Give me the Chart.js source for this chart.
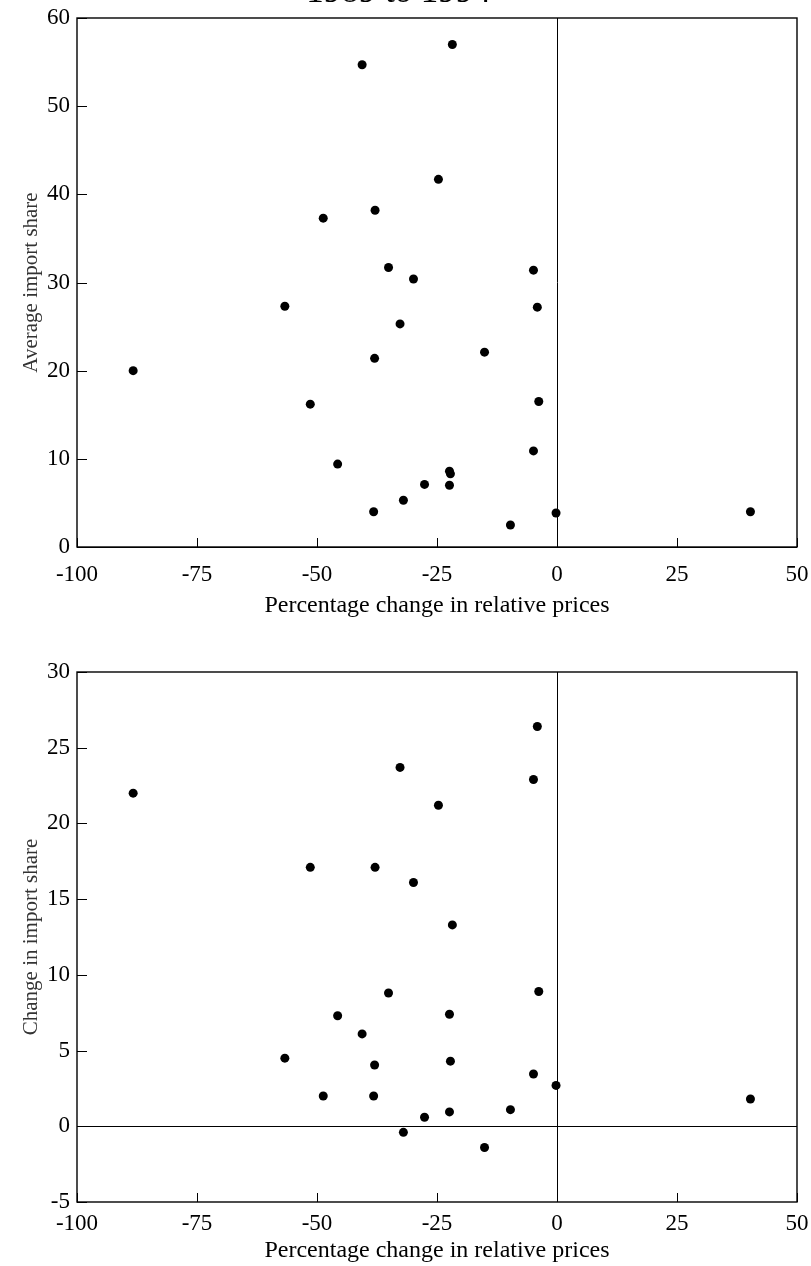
<!DOCTYPE html>
<html><head><meta charset="utf-8">
<script src="https://cdn.jsdelivr.net/npm/chart.js@4.4.1/dist/chart.umd.min.js"></script>
<style>
html,body{margin:0;padding:0;background:#fff;overflow:hidden;width:811px;height:1266px;position:relative;}
#w1{position:absolute;left:0;top:-40px;width:811px;height:670px;}
#w2{position:absolute;left:0;top:630px;width:811px;height:636px;}
</style></head><body>
<div id="w1"><canvas id="c1"></canvas></div>
<div id="w2"><canvas id="c2"></canvas></div>
<script>
const titleText = '1989 to 1994';
const xTitle = 'Percentage change in relative prices';
const yTitleTop = 'Average import share';
const yTitleBottom = 'Change in import share';
const xTicks = [-100, -75, -50, -25, 0, 25, 50];
const yTicksTop = [0, 10, 20, 30, 40, 50, 60];
const yTicksBottom = [-5, 0, 5, 10, 15, 20, 25, 30];

// one entry per country (same order in every array)
const priceChange = [-88.3, -56.7, -51.4, -48.7, -45.7, -40.6, -37.9, -38.0, -38.2, -35.1,
  -32.7, -32.0, -29.9, -27.6, -24.7, -22.4, -22.2, -22.4, -21.8, -15.1,
  -9.7, -4.9, -4.9, -4.1, -3.8, -0.2, 40.3];
const avgImportShare = [20.0, 27.3, 16.2, 37.3, 9.4, 54.7, 38.2, 21.4, 4.0, 31.7,
  25.3, 5.3, 30.4, 7.1, 41.7, 8.6, 8.3, 7.0, 57.0, 22.1,
  2.5, 31.4, 10.9, 27.2, 16.5, 3.85, 4.0];
const changeImportShare = [22.0, 4.5, 17.1, 2.0, 7.3, 6.1, 17.1, 4.05, 2.0, 8.8,
  23.7, -0.4, 16.1, 0.6, 21.2, 7.4, 4.3, 0.95, 13.3, -1.4,
  1.1, 22.9, 3.45, 26.4, 8.9, 2.7, 1.8];

Chart.defaults.font.family = "'Liberation Serif', 'Times New Roman', serif";
Chart.defaults.color = '#000';

const framePlugin = {
  id: 'frame',
  beforeDatasetsDraw(chart) {
    const {ctx, chartArea: a, scales: {x, y}} = chart;
    ctx.save();
    ctx.strokeStyle = '#000';
    ctx.lineWidth = 1.4;
    ctx.strokeRect(a.left, a.top, a.right - a.left, a.bottom - a.top);
    ctx.lineWidth = 1;
    ctx.beginPath();
    x.ticks.forEach(t => {
      const px = Math.round(x.getPixelForValue(t.value)) + 0.5;
      ctx.moveTo(px, a.bottom); ctx.lineTo(px, a.bottom - 9);
    });
    y.ticks.forEach(t => {
      const py = Math.round(y.getPixelForValue(t.value)) + 0.5;
      ctx.moveTo(a.left, py); ctx.lineTo(a.left + 10, py);
    });
    ctx.stroke();
    ctx.restore();
  }
};

function zeroLine(c) {
  return c.tick && c.tick.value === 0 ? '#000' : 'rgba(0,0,0,0)';
}

function makeChart(id, yValues, yTicks, yTitle, opt) {
  const pts = priceChange.map((v, i) => ({x: v, y: yValues[i]}));
  return new Chart(document.getElementById(id), {
    type: 'scatter',
    data: {datasets: [{data: pts, backgroundColor: '#000', borderWidth: 0, pointRadius: 4.5, pointHoverRadius: 4.5}]},
    options: {
      responsive: true, maintainAspectRatio: false, animation: false, events: [],
      devicePixelRatio: 1,
      layout: {padding: {top: opt.padTop, right: 14, bottom: 0, left: 0}},
      plugins: {
        legend: {display: false}, tooltip: {enabled: false},
        title: opt.title ? {display: true, text: opt.title, color: '#000',
          font: {size: 35, weight: 'normal'}, padding: {top: 12, bottom: 4}} : {display: false}
      },
      scales: {
        x: {
          type: 'linear', min: xTicks[0], max: xTicks[xTicks.length - 1],
          afterBuildTicks: s => { s.ticks = xTicks.map(v => ({value: v})); },
          afterFit: s => { s.height = opt.xHeight; s.paddingLeft = 0; s.paddingRight = 0; },
          ticks: {font: {size: 23}, padding: opt.tickPad, color: '#000', maxRotation: 0, autoSkip: false},
          grid: {drawOnChartArea: true, drawTicks: false, color: zeroLine, lineWidth: 1},
          border: {display: false},
          title: {display: true, text: xTitle, font: {size: 24}, color: '#000', padding: {top: 0, bottom: opt.titlePad}}
        },
        y: {
          type: 'linear', min: yTicks[0], max: yTicks[yTicks.length - 1],
          afterBuildTicks: s => { s.ticks = yTicks.map(v => ({value: v})); },
          afterFit: s => { s.width = 77; },
          ticks: {font: {size: 23}, padding: 7, color: '#000', autoSkip: false},
          grid: {drawOnChartArea: true, drawTicks: false, color: zeroLine, lineWidth: 1},
          border: {display: false},
          title: {display: true, text: yTitle, font: {size: 21}, color: '#333', padding: {top: 19, bottom: 0}}
        }
      }
    },
    plugins: [framePlugin]
  });
}

makeChart('c1', avgImportShare, yTicksTop, yTitleTop,
  {title: titleText, padTop: 0, xHeight: 83, tickPad: 14, titlePad: 10});
makeChart('c2', changeImportShare, yTicksBottom, yTitleBottom,
  {title: null, padTop: 42, xHeight: 64, tickPad: 8, titlePad: 1});
</script>
</body></html>
